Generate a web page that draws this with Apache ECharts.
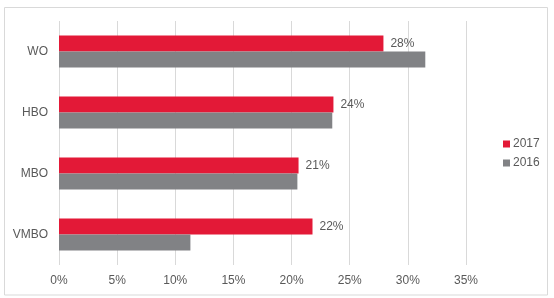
<!DOCTYPE html>
<html><head><meta charset="utf-8">
<script src="https://cdn.jsdelivr.net/npm/echarts@6/dist/echarts.min.js"></script>
<style>html,body{margin:0;padding:0;background:#fff}#c{width:554px;height:298px}</style>
</head><body><div id="c"></div>
<script>
const categories = ['WO', 'HBO', 'MBO', 'VMBO'];
const values2017 = [27.9, 23.6, 20.6, 21.8];
const values2016 = [31.5, 23.5, 20.5, 11.3];
const seriesNames = ['2017', '2016'];
const chart = echarts.init(document.getElementById('c'));
const txt = '#595959';
const font = 'Liberation Sans, Arial, sans-serif';
chart.setOption({
  animation: false,
  textStyle: { fontFamily: font },
  graphic: [{ type: 'rect', shape: { x: 4.5, y: 7.5, width: 543, height: 287.5 }, style: { fill: 'none', stroke: '#d9d9d9', lineWidth: 1 }, silent: true }],
  grid: { left: 59, right: 88, top: 21, bottom: 33 },
  legend: {
    orient: 'vertical', left: 498, top: 133, itemWidth: 7, itemHeight: 7, itemGap: 7, icon: 'rect',
    textStyle: { color: txt, fontSize: 12, fontFamily: font, padding: [0, 0, 0, -2] },
    data: seriesNames
  },
  xAxis: {
    type: 'value', min: 0, max: 35, interval: 5,
    axisLabel: { formatter: '{value}%', color: txt, fontSize: 12, margin: 10 },
    splitLine: { lineStyle: { color: '#d9d9d9' } },
    axisLine: { show: false }, axisTick: { show: false }
  },
  yAxis: {
    type: 'category', data: categories, inverse: true,
    axisLabel: { color: txt, fontSize: 12, margin: 11 },
    axisLine: { show: false }, axisTick: { show: false }
  },
  series: [
    { name: seriesNames[0], type: 'bar', data: values2017, barWidth: 16, barGap: '0%', itemStyle: { color: '#e31937' },
      label: { show: true, position: 'right', distance: 7, color: txt, fontSize: 12, formatter: p => Math.round(p.value) + '%' } },
    { name: seriesNames[1], type: 'bar', data: values2016, barWidth: 16, barGap: '0%', itemStyle: { color: '#818285' } }
  ]
});
</script></body></html>
